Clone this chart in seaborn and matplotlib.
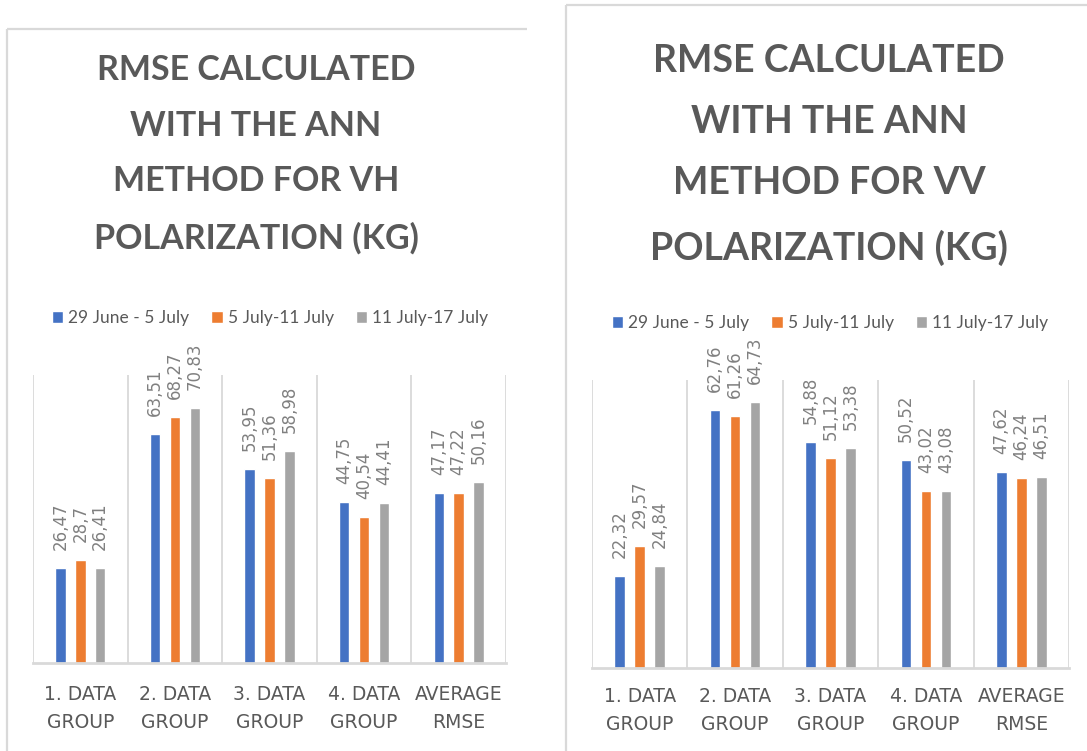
import numpy as np
import pandas as pd
import matplotlib
matplotlib.use("Agg")
import matplotlib.pyplot as plt
import seaborn as sns
from matplotlib.lines import Line2D

# ---------------- data ----------------
groups = ["1. DATA\nGROUP", "2. DATA\nGROUP", "3. DATA\nGROUP", "4. DATA\nGROUP", "AVERAGE\nRMSE"]
periods = ["29 June - 5 July", "5 July-11 July", "11 July-17 July"]

vh_p1 = [26.47, 63.51, 53.95, 44.75, 47.17]
vh_p2 = [28.7, 68.27, 51.36, 40.54, 47.22]
vh_p3 = [26.41, 70.83, 58.98, 44.41, 50.16]

vv_p1 = [22.32, 62.76, 54.88, 50.52, 47.62]
vv_p2 = [29.57, 61.26, 51.12, 43.02, 46.24]
vv_p3 = [24.84, 64.73, 53.38, 43.08, 46.51]

title_vh = "RMSE CALCULATED\nWITH THE ANN\nMETHOD FOR VH\nPOLARIZATION (KG)"
title_vv = "RMSE CALCULATED\nWITH THE ANN\nMETHOD FOR VV\nPOLARIZATION (KG)"

colors = ["#4472C4", "#ED7D31", "#A5A5A5"]

# ---------------- style ----------------
sns.set_theme(style="white")
plt.rcParams["font.family"] = ["Lato", "DejaVu Sans"]

W, H = 1087, 751
fig = plt.figure(figsize=(W / 100, H / 100), dpi=100)
fig.patch.set_facecolor("white")

GRID = "#D9D9D9"
TXT = "#595959"
VAL = "#808080"


def make_df(s1, s2, s3):
    rows = []
    for per, vals in zip(periods, [s1, s2, s3]):
        for g, v in zip(groups, vals):
            rows.append({"group": g, "period": per, "value": v})
    return pd.DataFrame(rows)


def fmt(v):
    return ("{:g}".format(round(v, 2))).replace(".", ",")


def draw(rect, df, ymax, title, title_xy, title_size, title_ls, leg_xy, tick_pad):
    ax = fig.add_axes([rect[0] / W, 1 - rect[3] / H, (rect[2] - rect[0]) / W, (rect[3] - rect[1]) / H])
    sns.barplot(data=df, x="group", y="value", hue="period", palette=colors,
                width=0.63, gap=0.476, saturation=1, errorbar=None, ax=ax, legend=True)
    ax.set_ylim(0, ymax)
    ax.set_xlim(-0.5, len(groups) - 0.5)
    for i in range(len(groups) + 1):
        ax.axvline(i - 0.5, color=GRID, lw=1.3, zorder=0)
    for sp in ["top", "right", "left"]:
        ax.spines[sp].set_visible(False)
    ax.spines["bottom"].set_color(GRID)
    ax.spines["bottom"].set_linewidth(2)
    ax.set_yticks([])
    ax.set_xlabel("")
    ax.set_ylabel("")
    ax.tick_params(axis="x", length=0, pad=tick_pad, labelsize=13.5, colors=TXT)
    for lab in ax.get_xticklabels():
        lab.set_family("DejaVu Sans")
        lab.set_linespacing(1.6)
    for c in ax.containers:
        ax.bar_label(c, labels=[fmt(v) for v in c.datavalues], rotation=90,
                     padding=13, color=VAL, fontsize=12, family="DejaVu Sans")
    sns.move_legend(ax, loc="center left", bbox_to_anchor=(leg_xy[0] / W, 1 - leg_xy[1] / H),
                    bbox_transform=fig.transFigure, ncol=3, frameon=False, title=None,
                    fontsize=12.5, handlelength=0.65, handleheight=0.65, handletextpad=0.3,
                    columnspacing=1.25, borderpad=0, borderaxespad=0, labelcolor=TXT)
    fig.text(title_xy[0] / W, 1 - title_xy[1] / H, title, ha="center", va="center",
             fontsize=title_size, fontweight="bold", color=TXT, linespacing=title_ls,
             family="Lato")
    return ax


draw((33, 375, 506, 663), make_df(vh_p1, vh_p2, vh_p3), 80, title_vh, (256, 154), 24.5, 1.92, (52, 318), 15.5)
draw((592, 380, 1069, 668), make_df(vv_p1, vv_p2, vv_p3), 70, title_vv, (829, 155), 27, 1.97, (612, 323), 14)

# panel frames (top and left edges only)
def frame_line(x0, y0, x1, y1):
    fig.add_artist(Line2D([x0 / W, x1 / W], [1 - y0 / H, 1 - y1 / H], transform=fig.transFigure,
                          color=GRID, lw=1.6, solid_capstyle="butt"))

frame_line(7, 29, 527, 29)
frame_line(7, 29, 7, H + 5)
frame_line(566, 5, W + 5, 5)
frame_line(566, 5, 566, H + 5)

fig.savefig("out.png", dpi=100, facecolor="white")
